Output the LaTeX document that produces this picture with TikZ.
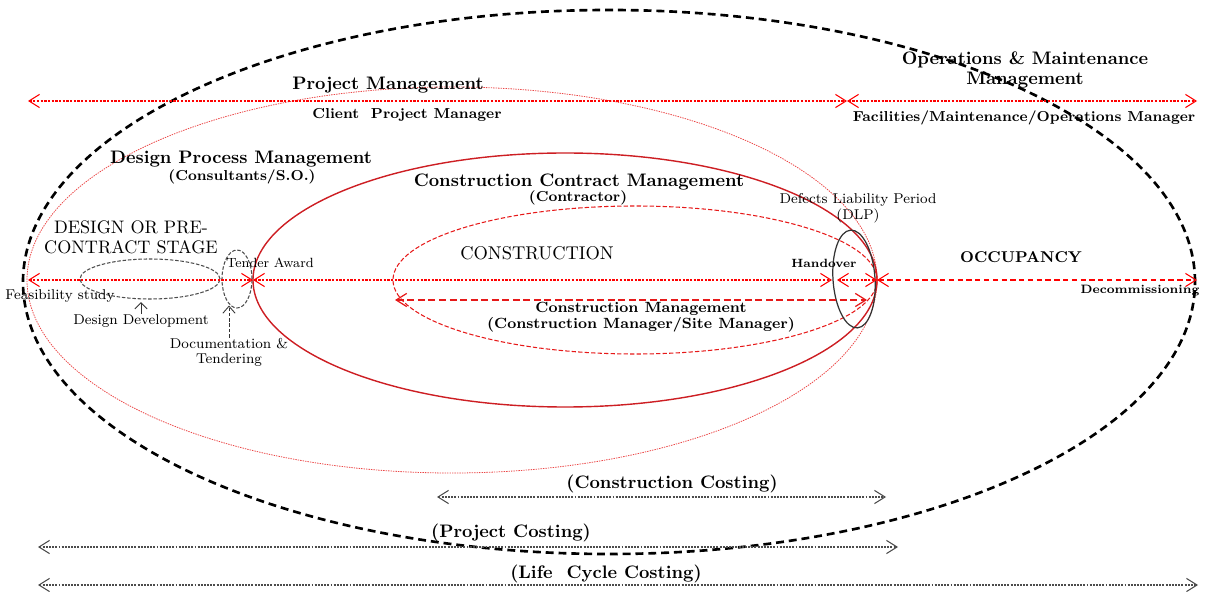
\documentclass[tikz,border=0pt]{standalone}
\usepackage{tikz}
\usetikzlibrary{arrows.meta}

\definecolor{pmred}{RGB}{235,70,70}
\definecolor{ccred}{RGB}{205,30,35}
\definecolor{cnred}{RGB}{230,25,25}

\tikzset{
  head/.style={font=\fontsize{10.3}{11}\selectfont\bfseries, align=center, inner sep=0pt},
  sub/.style={font=\fontsize{8.2}{9.4}\selectfont\bfseries, align=center, inner sep=0pt},
  lbl/.style={font=\fontsize{8.1}{8.6}\selectfont, align=center, inner sep=0pt},
  redspan/.style={<->, red, dash pattern=on 1.3pt off 0.8pt, line width=0.6pt},
  costspan/.style={<->, black!70, dash pattern=on 1.1pt off 0.7pt, line width=0.6pt},
  stagering/.style={black!70, line width=0.6pt, dash pattern=on 2pt off 1pt}
}

\begin{document}
\begin{tikzpicture}[x=0.2mm, y=0.2mm, >={Straight Barb[length=6pt,width=7.5pt]}]
\useasboundingbox (0,0) rectangle (1214,591);

% nested stages
\draw[black, line width=1.5pt, dash pattern=on 4.5pt off 2.8pt] (609,309) ellipse (11.72cm and 5.44cm);
\draw[pmred, line width=0.45pt, dash pattern=on 0.8pt off 0.6pt] (452,311) ellipse (8.5cm and 3.86cm);
\draw[ccred, line width=0.8pt] (565,311) ellipse (6.24cm and 2.54cm);
\draw[cnred, line width=0.6pt, dash pattern=on 2.5pt off 1.2pt] (635,311) ellipse (4.84cm and 1.48cm);
\draw[stagering] (150,312) ellipse (1.4cm and 0.4cm);
\draw[stagering] (237,312) ellipse (0.3cm and 0.58cm);
\draw[black!80, line width=0.7pt, rotate around={4:(854,312)}] (854,312) ellipse (0.42cm and 0.98cm);

% milestones
\coordinate (fs) at (28,311);
\coordinate (ta) at (253,311);
\coordinate (ho) at (832,311);
\coordinate (hoB) at (837,311);
\coordinate (dlp) at (877,311);
\coordinate (dc) at (1197,311);
\coordinate (pmL) at (28,490);
\coordinate (pmR) at (847,490);
\coordinate (omR) at (1197,490);
\coordinate (cmL) at (395,291);
\coordinate (cmR) at (867,291);
\coordinate (ccL) at (437,94);
\coordinate (ccR) at (886,94);
\coordinate (pcL) at (38,44);
\coordinate (pcR) at (898,44);
\coordinate (lcL) at (38,6);
\coordinate (lcR) at (1198,6);

\draw[redspan] (pmL) -- (pmR);
\draw[redspan] (pmR) -- (omR);
\draw[redspan] (fs) -- (ta);
\draw[redspan] (ta) -- (ho);
\draw[redspan] (hoB) -- (dlp);
\draw[redspan, dash pattern=on 3pt off 2pt] (dlp) -- (dc);
\draw[<->, cnred, line width=0.7pt, dash pattern=on 4pt off 2pt] (cmL) -- (cmR);
\draw[costspan] (ccL) -- (ccR);
\draw[costspan] (pcL) -- (pcR);
\draw[costspan] (lcL) -- (lcR);

% labels
\node[head] (pm) at (388,506) {Project Management};
\node[sub] (cpm) at (407,476) {Client~ Project Manager};
\node[head] (om) at (1025,521) {Operations \& Maintenance\\Management};
\node[sub] (fmo) at (1024,473) {Facilities/Maintenance/Operations Manager};
\node[head] (dpm) at (241,432) {Design Process Management};
\node[sub] (cso) at (242,414) {(Consultants/S.O.)};
\node[head] (ccm) at (579,409) {Construction Contract Management};
\node[sub] (ctr) at (578,393) {(Contractor)};
\node[lbl, font=\fontsize{8.1}{9.1}\selectfont] (dlpl) at (858,383) {Defects Liability Period\\(DLP)};
\node[lbl, font=\fontsize{10.3}{11.4}\selectfont] (pre) at (131,354) {DESIGN OR PRE-\\CONTRACT STAGE};
\node[lbl, font=\fontsize{7.6}{8}\selectfont] (tal) at (270,328) {Tender Award};
\node[lbl, font=\fontsize{10.5}{11}\selectfont] (con) at (537,338) {CONSTRUCTION};
\node[sub, font=\fontsize{6.8}{7}\selectfont\bfseries] (hol) at (824,328) {Handover};
\node[head, font=\fontsize{8.9}{9}\selectfont\bfseries] (occ) at (1021,334) {OCCUPANCY};
\node[lbl] (fsl) at (60,295) {Feasibility study};
\node[lbl] (dd) at (141,270) {Design Development};
\node[lbl] (dt) at (229,239) {Documentation \&\\Tendering};
\node[sub, font=\fontsize{8.4}{9.1}\selectfont\bfseries] (cml) at (641,274) {Construction Management\\(Construction Manager/Site Manager)};
\node[sub, font=\fontsize{6.9}{7}\selectfont\bfseries] (dcl) at (1140,300) {Decommissioning};
\node[head] (ccst) at (672,107) {(Construction Costing)};
\node[head] (pcst) at (511,58) {(Project Costing)};
\node[head] (lcst) at (606,17) {(Life~ Cycle Costing)};

\draw[->, black!80, line width=0.5pt, >={Straight Barb[length=3.5pt,width=7pt]}] (dd.north) -- ++(0,12);
\draw[->, black!80, line width=0.5pt, dash pattern=on 2pt off 1pt, >={Straight Barb[length=4pt,width=7pt]}] (dt.north) -- ++(0,32);
\end{tikzpicture}
\end{document}
